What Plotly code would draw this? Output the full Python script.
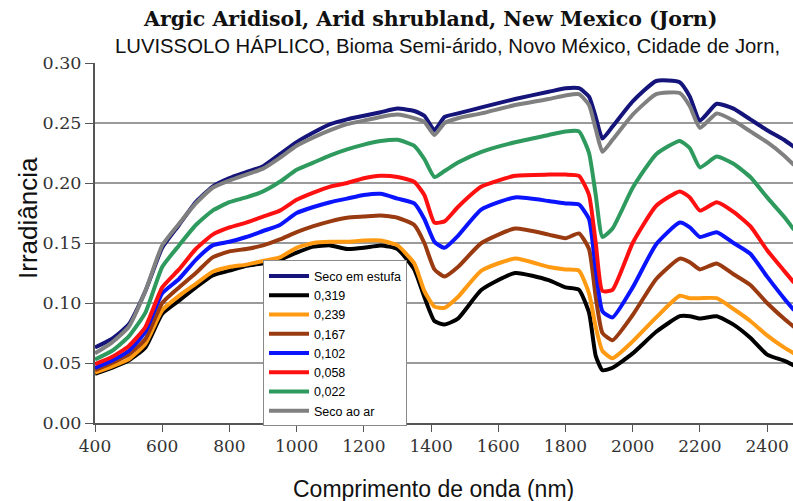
import plotly.graph_objects as go

# Wavelength grid (nm)
wavelength = [400, 450, 500, 550, 600, 650, 700, 750, 800, 850, 900, 950, 1000, 1050,
              1100, 1150, 1200, 1250, 1300, 1350, 1380, 1410, 1440, 1480, 1550, 1650,
              1750, 1800, 1840, 1870, 1890, 1910, 1940, 2000, 2070, 2140, 2170, 2200,
              2250, 2300, 2350, 2400, 2450, 2480]

seco_estufa = [0.063, 0.070, 0.082, 0.110, 0.146, 0.165, 0.184, 0.197, 0.204, 0.209, 0.214,
               0.224, 0.234, 0.242, 0.249, 0.253, 0.256, 0.259, 0.262, 0.260, 0.256, 0.244,
               0.255, 0.258, 0.263, 0.270, 0.276, 0.279, 0.279, 0.272, 0.255, 0.237, 0.247,
               0.268, 0.285, 0.284, 0.272, 0.252, 0.266, 0.262, 0.253, 0.244, 0.236, 0.230]

u_0319 = [0.041, 0.046, 0.052, 0.063, 0.091, 0.102, 0.113, 0.123, 0.127, 0.131, 0.133,
          0.136, 0.142, 0.147, 0.148, 0.145, 0.146, 0.148, 0.145, 0.128, 0.105, 0.085,
          0.082, 0.087, 0.111, 0.125, 0.119, 0.113, 0.111, 0.092, 0.056, 0.044, 0.046,
          0.058, 0.076, 0.089, 0.089, 0.087, 0.089, 0.082, 0.071, 0.057, 0.052, 0.048]

u_0239 = [0.042, 0.047, 0.053, 0.066, 0.094, 0.106, 0.116, 0.126, 0.130, 0.132, 0.135,
          0.138, 0.146, 0.150, 0.151, 0.151, 0.152, 0.152, 0.148, 0.133, 0.110, 0.097,
          0.096, 0.105, 0.127, 0.137, 0.130, 0.128, 0.127, 0.108, 0.080, 0.060, 0.054,
          0.068, 0.088, 0.106, 0.104, 0.104, 0.104, 0.095, 0.085, 0.073, 0.063, 0.058]

u_0167 = [0.044, 0.050, 0.057, 0.070, 0.100, 0.113, 0.125, 0.138, 0.143, 0.145, 0.148,
          0.153, 0.159, 0.164, 0.168, 0.171, 0.172, 0.173, 0.171, 0.165, 0.150, 0.128,
          0.122, 0.130, 0.150, 0.162, 0.157, 0.154, 0.158, 0.145, 0.105, 0.075, 0.069,
          0.090, 0.120, 0.137, 0.134, 0.128, 0.133, 0.124, 0.115, 0.100, 0.087, 0.080]

u_0102 = [0.046, 0.052, 0.060, 0.076, 0.108, 0.120, 0.136, 0.148, 0.151, 0.155, 0.160,
          0.165, 0.175, 0.180, 0.184, 0.187, 0.190, 0.191, 0.187, 0.183, 0.170, 0.151,
          0.146, 0.156, 0.178, 0.188, 0.185, 0.183, 0.182, 0.170, 0.128, 0.093, 0.088,
          0.113, 0.149, 0.167, 0.163, 0.155, 0.159, 0.150, 0.141, 0.122, 0.104, 0.094]

u_0058 = [0.049, 0.055, 0.064, 0.080, 0.113, 0.128, 0.145, 0.157, 0.163, 0.167, 0.172,
          0.177, 0.186, 0.192, 0.197, 0.200, 0.204, 0.206, 0.205, 0.201, 0.190, 0.167,
          0.168, 0.180, 0.197, 0.206, 0.207, 0.207, 0.206, 0.190, 0.150, 0.110, 0.111,
          0.150, 0.181, 0.193, 0.188, 0.177, 0.184, 0.176, 0.164, 0.144, 0.127, 0.117]

u_0022 = [0.053, 0.060, 0.072, 0.092, 0.130, 0.148, 0.165, 0.177, 0.184, 0.188, 0.193,
          0.201, 0.211, 0.217, 0.223, 0.228, 0.232, 0.235, 0.236, 0.231, 0.220, 0.205,
          0.210, 0.217, 0.226, 0.234, 0.240, 0.243, 0.243, 0.225, 0.190, 0.155, 0.162,
          0.196, 0.224, 0.235, 0.229, 0.213, 0.222, 0.216, 0.205, 0.188, 0.172, 0.161]

seco_ar = [0.058, 0.067, 0.080, 0.110, 0.148, 0.166, 0.183, 0.196, 0.202, 0.207, 0.212,
           0.221, 0.231, 0.238, 0.244, 0.249, 0.252, 0.255, 0.257, 0.254, 0.251, 0.240,
           0.250, 0.254, 0.258, 0.265, 0.270, 0.273, 0.274, 0.265, 0.245, 0.226, 0.236,
           0.257, 0.274, 0.275, 0.264, 0.246, 0.258, 0.252, 0.243, 0.234, 0.223, 0.215]

series_names = ["Seco em estufa", "0,319", "0,239", "0,167", "0,102", "0,058", "0,022", "Seco ao ar"]
series_values = [seco_estufa, u_0319, u_0239, u_0167, u_0102, u_0058, u_0022, seco_ar]
series_colors = ["#14147a", "#000000", "#ff9a12", "#993a10", "#0a14ff", "#ff1010", "#2e9a5e", "#808080"]

y_ticks = [0.00, 0.05, 0.10, 0.15, 0.20, 0.25, 0.30]
x_ticks = [400, 600, 800, 1000, 1200, 1400, 1600, 1800, 2000, 2200, 2400]

fig = go.Figure()
for name, vals, col in zip(series_names, series_values, series_colors):
    fig.add_trace(go.Scatter(x=wavelength, y=vals, mode="lines", name=name,
                             line=dict(color=col, width=4, shape="spline", smoothing=0.5)))

serif = "DejaVu Serif, serif"
sans = "Liberation Sans, Arial, sans-serif"

fig.update_layout(
    width=793, height=501,
    margin=dict(l=95, r=0, t=63, b=78),
    paper_bgcolor="white", plot_bgcolor="white",
    showlegend=True,
    legend=dict(x=0.2407, y=0.452, xanchor="left", yanchor="top",
                bgcolor="white", bordercolor="#8a8a8a", borderwidth=1,
                font=dict(family=sans, size=12.5, color="#000000"),
                tracegroupgap=0, itemwidth=40),
    xaxis=dict(range=[400, 2477], tickvals=x_ticks, ticktext=[str(v) for v in x_ticks],
               showgrid=False, zeroline=False,
               showline=True, linecolor="#555555", linewidth=2,
               ticks="outside", ticklen=7, tickcolor="#555555", tickwidth=1,
               tickfont=dict(family=serif, size=17, color="#333333")),
    yaxis=dict(range=[0, 0.30], tickvals=y_ticks, tickformat=".2f",
               showgrid=True, gridcolor="#9a9a9a", gridwidth=2, zeroline=False,
               showline=True, linecolor="#555555", linewidth=2,
               ticks="outside", ticklen=8, tickcolor="#555555", tickwidth=1,
               tickfont=dict(family=serif, size=17.5, color="#333333")),
    annotations=[
        dict(text="<b>Argic Aridisol, Arid shrubland, New Mexico (Jorn)</b>",
             xref="paper", yref="paper", x=(430 - 95) / 698, y=(423 - 19) / 360,
             xanchor="center", yanchor="middle", showarrow=False,
             font=dict(family=serif, size=20.5, color="#111111")),
        dict(text="LUVISSOLO HÁPLICO, Bioma Semi-árido, Novo México, Cidade de Jorn,",
             xref="paper", yref="paper", x=(447 - 95) / 698, y=(423 - 46) / 360,
             xanchor="center", yanchor="middle", showarrow=False,
             font=dict(family=sans, size=20.3, color="#111111")),
        dict(text="Irradiância", xref="paper", yref="paper",
             x=(28 - 95) / 698, y=(423 - 218) / 360, textangle=-90,
             xanchor="center", yanchor="middle", showarrow=False,
             font=dict(family=sans, size=26, color="#111111")),
        dict(text="Comprimento de onda (nm)", xref="paper", yref="paper",
             x=(433 - 95) / 698, y=(423 - 489) / 360,
             xanchor="center", yanchor="middle", showarrow=False,
             font=dict(family=sans, size=23, color="#111111")),
    ],
)

fig.write_html("out.html")
